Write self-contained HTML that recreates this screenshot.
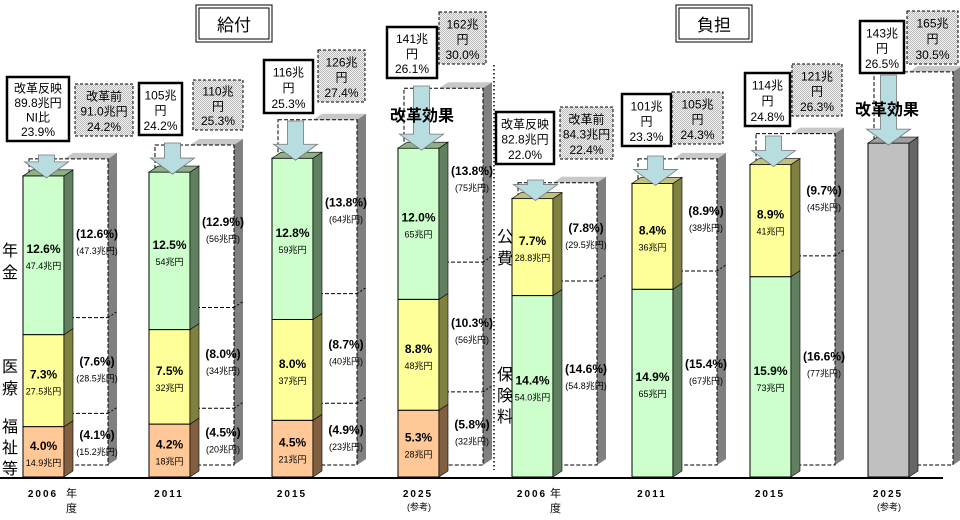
<!DOCTYPE html>
<html><head><meta charset="utf-8">
<style>
html,body{margin:0;padding:0;background:#fff}
svg{display:block;font-family:"Liberation Sans","Noto Sans CJK JP",sans-serif}
</style></head>
<body>
<svg id="c" width="960" height="520" viewBox="0 0 960 520" xmlns="http://www.w3.org/2000/svg">
<defs>
<pattern id="dots" width="2" height="2" patternUnits="userSpaceOnUse"><rect width="2" height="2" fill="#f4f4f4"/><rect width="1" height="1" fill="#b8b8b8"/><rect x="1" y="1" width="1" height="1" fill="#b8b8b8"/></pattern>
</defs>
<g id="layer"></g>
<g id="top"></g>
</svg>
<script>
// ---- data ----
const leftYears = ['2006','2011','2015','2025'];
const pensionPct = [12.6,12.5,12.8,12.0];
const medicalPct = [7.3,7.5,8.0,8.8];
const welfarePct = [4.0,4.2,4.5,5.3];
const pensionAmt = ['47.4兆円','54兆円','59兆円','65兆円'];
const medicalAmt = ['27.5兆円','32兆円','37兆円','48兆円'];
const welfareAmt = ['14.9兆円','18兆円','21兆円','28兆円'];
const ghostPensionPct = [12.6,12.9,13.8,13.8];
const ghostMedicalPct = [7.6,8.0,8.7,10.3];
const ghostWelfarePct = [4.1,4.5,4.9,5.8];
const ghostPensionAmt = ['47.3兆円','56兆円','64兆円','75兆円'];
const ghostMedicalAmt = ['28.5兆円','34兆円','40兆円','56兆円'];
const ghostWelfareAmt = ['15.2兆円','20兆円','23兆円','32兆円'];
const leftBoxA = [['改革反映','89.8兆円','NI比','23.9%'],['105兆','円','24.2%'],['116兆','円','25.3%'],['141兆','円','26.1%']];
const leftBoxB = [['改革前','91.0兆円','24.2%'],['110兆','円','25.3%'],['126兆','円','27.4%'],['162兆','円','30.0%']];

const rightYears = ['2006','2011','2015','2025'];
const publicPct = [7.7,8.4,8.9];
const insurancePct = [14.4,14.9,15.9];
const publicAmt = ['28.8兆円','36兆円','41兆円'];
const insuranceAmt = ['54.0兆円','65兆円','73兆円'];
const ghostPublicPct = [7.8,8.9,9.7];
const ghostInsurancePct = [14.6,15.4,16.6];
const ghostPublicAmt = ['29.5兆円','38兆円','45兆円'];
const ghostInsuranceAmt = ['54.8兆円','67兆円','77兆円'];
const refTotalPct = 26.5;
const refGhostPct = 31.2;
const rightBoxA = [['改革反映','82.8兆円','22.0%'],['101兆','円','23.3%'],['114兆','円','24.8%'],['143兆','円','26.5%']];
const rightBoxB = [['改革前','84.3兆円','22.4%'],['105兆','円','24.3%'],['121兆','円','26.3%'],['165兆','円','30.5%']];

// ---- layout ----
const NS='http://www.w3.org/2000/svg';
const L=document.getElementById('layer');
const TOP=document.getElementById('top');
const BASE=477, GBASE=465, PX=12.6;
function y(p){return BASE-p*PX;}
function gy(p){return GBASE-p*PX;}
function el(tag,attrs,parent){const e=document.createElementNS(NS,tag);for(const k in attrs)e.setAttribute(k,attrs[k]);(parent||L).appendChild(e);return e;}
function txt(x,yy,s,size,weight,anchor,name,parent){const t=el('text',{x:x,y:yy,'font-size':size,'font-weight':weight||'normal','text-anchor':anchor||'middle',fill:'#000'},parent);t.textContent=s;


return t;}

const leftX=[23,149,272,398], rightX=[512,632,750,868], W=41, D=9, DY=6;
const leftBoxAPos=[[7,77,62,64],[139,83,43,52],[264,60,49,53],[387,27,50,51]];
const leftBoxBPos=[[75,84,58,52],[193,80,50,50],[318,50,47,52],[439,12,47,52]];
const rightBoxAPos=[[496,112,58,52],[622,94,49,52],[745,73,45,53],[860,21,44,52]];
const rightBoxBPos=[[560,107,53,52],[672,92,51,52],[792,64,50,52],[907,11,51,53]];

function ghost(x,topP,cuts,labels){
  const g=el('g',{});
  
  
  const gx=x+6, gr=x+W+44, top=gy(topP);
  el('polygon',{points:`${x+W} ${top} ${gr} ${top} ${gr+D} ${top-DY} ${x+W+D} ${top-DY}`,fill:'#c8c8c8'},g);
  el('polygon',{points:`${gr} ${top} ${gr+D} ${top-DY} ${gr+D} ${GBASE-DY} ${gr} ${GBASE}`,fill:'#808080'},g);
  el('rect',{x:gx,y:top,width:gr-gx,height:GBASE-top,fill:'none',stroke:'#000','stroke-width':1,'stroke-dasharray':'4 2'},g);
  cuts.forEach(c=>{const cy=gy(c);el('line',{x1:x+W,y1:cy,x2:gr,y2:cy,stroke:'#000','stroke-dasharray':'4 2'},g);
    el('line',{x1:gr,y1:cy,x2:gr+D,y2:cy-DY,stroke:'#000','stroke-dasharray':'2 2'},g);});
  labels.forEach(l=>{txt(x+W+33,l[0],l[1],12,'bold','middle','ghost-pct-label',TOP);txt(x+W+33,l[0]+16,'('+l[2]+')',9,'normal','middle','ghost-amount-label',TOP);});
}
function seg(x,p0,p1,front,side,topc,pct,amt,name){
  const y0=y(p0), y1=y(p1);
  const g=el('g',{});
  
  
  el('rect',{x:x,y:y1,width:W,height:y0-y1,fill:front,stroke:'#000','stroke-width':1},g);
  el('polygon',{points:`${x+W} ${y1} ${x+W+D} ${y1-DY} ${x+W+D} ${y0-DY} ${x+W} ${y0}`,fill:side,stroke:'#000','stroke-width':0.6},g);
  if(topc) el('polygon',{points:`${x} ${y1} ${x+D} ${y1-DY} ${x+W+D} ${y1-DY} ${x+W} ${y1}`,fill:topc,stroke:'#000','stroke-width':0.6},g);
  if(pct){const m=(y0+y1)/2;txt(x+W/2,m-2,pct,12,'bold','middle','segment-pct');txt(x+W/2,m+14,amt,9,'normal','middle','segment-amount');}
}
function box(p,lines,dashed,name){
  const g=el('g',{},TOP);
  
  
  el('rect',{x:p[0],y:p[1],width:p[2],height:p[3],fill:dashed?'url(#dots)':'#fff',stroke:'#000','stroke-width':dashed?1:2.5,'stroke-dasharray':dashed?'3 2':'none'},g);
  const lh=p[3]/(lines.length+0.4);
  lines.forEach((s,i)=>{const t=el('text',{x:p[0]+p[2]/2,y:p[1]+lh*(i+1)+1,'font-size':12,'text-anchor':'middle'},g);t.textContent=s;});
}
function arrow(cx,y0,y1){
  const h=16;const a=el('polygon',{points:`${cx-8} ${y0} ${cx+8} ${y0} ${cx+8} ${y1-h} ${cx+22} ${y1-h} ${cx} ${y1} ${cx-22} ${y1-h} ${cx-8} ${y1-h}`,fill:'#b8dde0',stroke:'#777','stroke-width':0.8},TOP);
  
  
}

// ---- left panel ----
leftYears.forEach((yr,i)=>{
  const x=leftX[i];
  const gw=ghostWelfarePct[i], gm=gw+ghostMedicalPct[i], gt=gm+ghostPensionPct[i];
  ghost(x,gt,[gw,gm],[[gy((gm+gt)/2),'('+ghostPensionPct[i].toFixed(1)+'%)',ghostPensionAmt[i]],[gy((gw+gm)/2),'('+ghostMedicalPct[i].toFixed(1)+'%)',ghostMedicalAmt[i]],[gy(gw/2),'('+ghostWelfarePct[i].toFixed(1)+'%)',ghostWelfareAmt[i]]]);
  const w=welfarePct[i], m=w+medicalPct[i], t=m+pensionPct[i];
  seg(x,0,w,'#ffc896','#806040',null,welfarePct[i].toFixed(1)+'%',welfareAmt[i],'welfare-bar-'+yr);
  seg(x,w,m,'#ffff99','#808040',null,medicalPct[i].toFixed(1)+'%',medicalAmt[i],'medical-bar-'+yr);
  seg(x,m,t,'#ccffcc','#608060','#90b088',pensionPct[i].toFixed(1)+'%',pensionAmt[i],'pension-bar-'+yr);
  box(leftBoxAPos[i],leftBoxA[i],false,'post-reform-total-box');
  box(leftBoxBPos[i],leftBoxB[i],true,'pre-reform-total-box');
  const bp=leftBoxAPos[i];
  arrow(x+W/2+3,bp[1]+bp[3]+(i==0?14:8),y(t)+2);
  const yt=txt(x+20,497,yr,10,'bold','middle','year-label',TOP);
  yt.setAttribute('letter-spacing','2');
});
// ---- right panel ----
rightYears.forEach((yr,i)=>{
  const x=rightX[i];
  if(i<3){
    const gi=ghostInsurancePct[i], gt=gi+ghostPublicPct[i];
    ghost(x,gt,[gi],[[gy((gi+gt)/2),'('+ghostPublicPct[i].toFixed(1)+'%)',ghostPublicAmt[i]],[gy(gi/2),'('+ghostInsurancePct[i].toFixed(1)+'%)',ghostInsuranceAmt[i]]]);
    const a=insurancePct[i], t=a+publicPct[i];
    seg(x,0,a,'#ccffcc','#608060',null,insurancePct[i].toFixed(1)+'%',insuranceAmt[i],'insurance-bar-'+yr);
    seg(x,a,t,'#ffff99','#808040','#c0c080',publicPct[i].toFixed(1)+'%',publicAmt[i],'public-bar-'+yr);
    const bp=rightBoxAPos[i];
    arrow(x+W/2+3,bp[1]+bp[3]+(i==0?16:10),y(t)+2);
  } else {
    ghost(x,refGhostPct,[],[]);
    seg(x,0,refTotalPct,'#c0c0c0','#666666','#a0a0a0',null,null,'reference-total-bar-2025');
    const bp=rightBoxAPos[i];
    arrow(x+W/2,bp[1]+bp[3]+2,y(refTotalPct)+2);
  }
  box(rightBoxAPos[i],rightBoxA[i],false,'post-reform-total-box');
  box(rightBoxBPos[i],rightBoxB[i],true,'pre-reform-total-box');
  const yt=txt(x+20,497,yr,10,'bold','middle','year-label',TOP);
  yt.setAttribute('letter-spacing','2');
});
</script>
<!-- static overlays -->
<svg width="960" height="520" style="position:absolute;left:0;top:0;font-family:'Liberation Sans','Noto Sans CJK JP',sans-serif">
<line x1="0" y1="478" x2="943" y2="478" stroke="#000" stroke-width="2"/>
<line x1="494" y1="65" x2="494" y2="470" stroke="#000" stroke-width="1.5" stroke-dasharray="1.5 2.5"/>
<g><rect x="196" y="5" width="76" height="37" fill="#fff" stroke="#000"/><rect x="199" y="8" width="70" height="31" fill="none" stroke="#000"/><text x="234" y="31" font-size="17" text-anchor="middle">給付</text></g>
<g><rect x="676" y="5" width="76" height="37" fill="#fff" stroke="#000"/><rect x="679" y="8" width="70" height="31" fill="none" stroke="#000"/><text x="714" y="31" font-size="17" text-anchor="middle">負担</text></g>
<text x="422" y="121" font-size="16" font-weight="bold" text-anchor="middle">改革効果</text>
<text x="887" y="115" font-size="16" font-weight="bold" text-anchor="middle">改革効果</text>
<g font-size="16">
<text x="2" y="256">年</text><text x="2" y="278">金</text>
<text x="2" y="372">医</text><text x="2" y="394">療</text>
<text x="2" y="432">福</text><text x="2" y="453">祉</text><text x="2" y="474">等</text>
<text x="497" y="242">公</text><text x="497" y="264">費</text>
<text x="497" y="380">保</text><text x="497" y="401">険</text><text x="497" y="422">料</text>
</g>
<g font-size="11">
<text x="66" y="497">年</text><text x="66" y="512">度</text>
<text x="550" y="497">年</text><text x="550" y="512">度</text>
<text x="419" y="510" font-size="9" text-anchor="middle">(参考)</text>
<text x="889" y="510" font-size="9" text-anchor="middle">(参考)</text>
</g>
</svg>
</body></html>
